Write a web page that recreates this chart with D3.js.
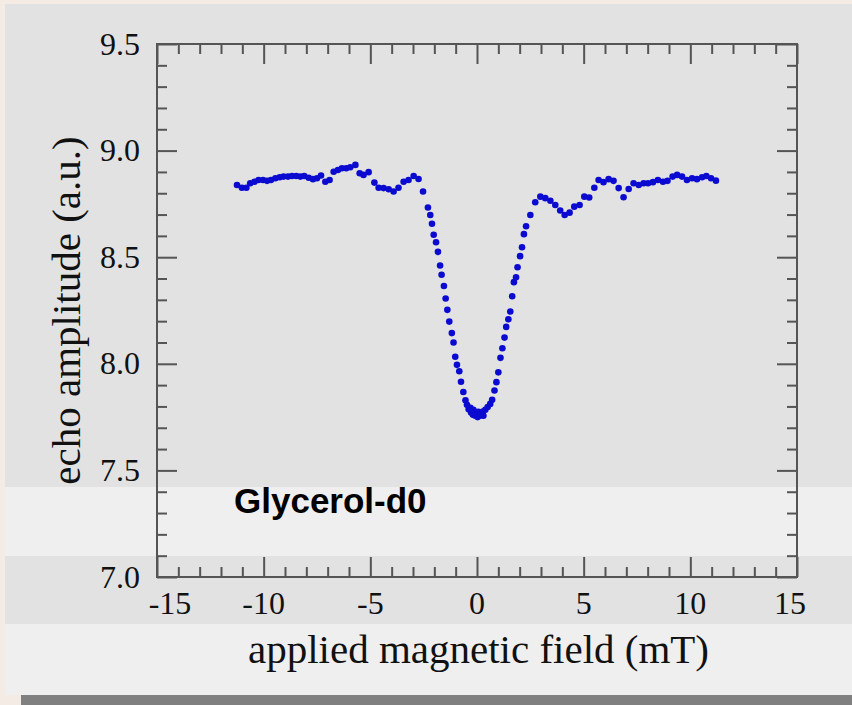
<!DOCTYPE html>
<html>
<head>
<meta charset="utf-8">
<script src="https://cdn.jsdelivr.net/npm/d3@7/dist/d3.min.js"></script>
<style>
  html, body { margin: 0; padding: 0; background: #f4ebe5; }
  svg { display: block; }
</style>
</head>
<body>
<svg id="chart" width="852" height="705"></svg>
<script>
// Applied magnetic field (mT)
const field = [
  -11.25, -11.02, -10.81, -10.63, -10.43, -10.24, -10.03, -9.84, -9.66, -9.45,
  -9.25, -9.07, -8.86, -8.67, -8.47, -8.28, -8.10, -7.89, -7.69, -7.50,
  -7.31, -7.11, -6.91, -6.72, -6.52, -6.33, -6.13, -5.94, -5.70, -5.50,
  -5.32, -5.08, -4.81, -4.61, -4.38, -4.14, -3.91, -3.68, -3.44, -3.21,
  -2.97, -2.74, -2.53, -2.30, -2.19, -2.11, -2.03, -1.92, -1.83, -1.73,
  -1.66, -1.55, -1.47, -1.39, -1.30, -1.18, -1.10, -1.02, -0.94, -0.83,
  -0.75, -0.64, -0.54, -0.47, -0.39, -0.31, -0.28, -0.19, -0.17, -0.08,
  0.03, 0.06, 0.12, 0.19, 0.28, 0.30, 0.39, 0.50, 0.62, 0.71,
  0.82, 0.91, 1.00, 1.10, 1.19, 1.29, 1.37, 1.47, 1.56, 1.65,
  1.73, 1.83, 1.90, 2.02, 2.11, 2.20, 2.30, 2.50, 2.73, 2.97,
  3.20, 3.44, 3.67, 3.90, 4.11, 4.34, 4.56, 4.81, 5.03, 5.26,
  5.50, 5.70, 5.93, 6.17, 6.40, 6.64, 6.87, 7.11, 7.34, 7.58,
  7.81, 8.02, 8.25, 8.48, 8.72, 8.93, 9.17, 9.38, 9.61, 9.84,
  10.08, 10.31, 10.55, 10.75, 10.97, 11.20
];

// Echo amplitude (a.u.)
const amplitude = [
  8.839, 8.826, 8.826, 8.847, 8.854, 8.862, 8.862, 8.858, 8.862, 8.870,
  8.875, 8.878, 8.878, 8.881, 8.881, 8.878, 8.881, 8.873, 8.866, 8.870,
  8.883, 8.854, 8.862, 8.901, 8.909, 8.917, 8.917, 8.922, 8.933, 8.894,
  8.886, 8.899, 8.850, 8.826, 8.824, 8.819, 8.808, 8.826, 8.854, 8.862,
  8.881, 8.867, 8.808, 8.733, 8.698, 8.657, 8.605, 8.570, 8.525, 8.461,
  8.418, 8.365, 8.306, 8.253, 8.198, 8.144, 8.100, 8.033, 7.995, 7.965,
  7.916, 7.868, 7.829, 7.808, 7.787, 7.794, 7.771, 7.761, 7.784, 7.756,
  7.750, 7.775, 7.756, 7.769, 7.776, 7.756, 7.784, 7.797, 7.812, 7.831,
  7.875, 7.914, 7.960, 8.028, 8.073, 8.123, 8.173, 8.209, 8.245, 8.317,
  8.383, 8.406, 8.453, 8.505, 8.547, 8.608, 8.645, 8.698, 8.758, 8.784,
  8.777, 8.765, 8.745, 8.719, 8.698, 8.709, 8.737, 8.745, 8.784, 8.780,
  8.826, 8.862, 8.852, 8.866, 8.858, 8.824, 8.781, 8.820, 8.847, 8.839,
  8.847, 8.847, 8.852, 8.862, 8.854, 8.858, 8.878, 8.886, 8.878, 8.862,
  8.870, 8.866, 8.875, 8.881, 8.870, 8.859
];

// Axis ticks
const xMajorTicks = [-15, -10, -5, 0, 5, 10, 15];
const xTickLabels = ["-15", "-10", "-5", "0", "5", "10", "15"];
const xMinorTicks = [-14, -13, -12, -11, -9, -8, -7, -6, -4, -3, -2, -1,
                     1, 2, 3, 4, 6, 7, 8, 9, 11, 12, 13, 14];
const yMajorTicks = [7.0, 7.5, 8.0, 8.5, 9.0, 9.5];
const yTickLabels = ["7.0", "7.5", "8.0", "8.5", "9.0", "9.5"];
const yMinorTicks = [7.1, 7.2, 7.3, 7.4, 7.6, 7.7, 7.8, 7.9, 8.1, 8.2, 8.3, 8.4,
                     8.6, 8.7, 8.8, 8.9, 9.1, 9.2, 9.3, 9.4];

const sampleLabel = "Glycerol-d0";
const xTitle = "applied magnetic field (mT)";
const yTitle = "echo amplitude (a.u.)";

(function draw() {
  const svg = d3.select("#chart");
  const W = 852, H = 705;

  // Backdrop panels
  const bg = svg.append("g");
  bg.append("rect").attr("x", 0).attr("y", 0).attr("width", W).attr("height", H).attr("fill", "#f4ebe5");
  bg.append("rect").attr("x", 5).attr("y", 4).attr("width", W - 5).attr("height", 620).attr("fill", "#e2e2e2");
  bg.append("rect").attr("x", 5).attr("y", 487).attr("width", W - 5).attr("height", 69).attr("fill", "#efefef");
  bg.append("rect").attr("x", 5).attr("y", 624).attr("width", W - 5).attr("height", 71).attr("fill", "#efefef");
  bg.append("rect").attr("x", 21).attr("y", 695).attr("width", W - 21).attr("height", 10).attr("fill", "#808080");

  // Plot frame
  const pLeft = 157, pRight = 797, pTop = 44, pBottom = 577;
  const x = d3.scaleLinear().domain([-15, 15]).range([pLeft, pRight]);
  const y = d3.scaleLinear().domain([7.0, 9.5]).range([pBottom, pTop]);

  const axisColor = "#555";

  function styleAxis(g) {
    g.select(".domain").remove();
    g.selectAll(".tick line").attr("stroke", axisColor).attr("stroke-width", 2);
    g.selectAll(".tick text").remove();
  }

  // Inward ticks on all four sides
  const axes = svg.append("g");
  axes.append("g").attr("transform", `translate(0,${pBottom})`)
    .call(d3.axisBottom(x).tickValues(xMajorTicks).tickSize(-20).tickSizeOuter(0)).call(styleAxis);
  axes.append("g").attr("transform", `translate(0,${pBottom})`)
    .call(d3.axisBottom(x).tickValues(xMinorTicks).tickSize(-10).tickSizeOuter(0)).call(styleAxis);
  axes.append("g").attr("transform", `translate(0,${pTop})`)
    .call(d3.axisTop(x).tickValues(xMajorTicks).tickSize(-20).tickSizeOuter(0)).call(styleAxis);
  axes.append("g").attr("transform", `translate(0,${pTop})`)
    .call(d3.axisTop(x).tickValues(xMinorTicks).tickSize(-10).tickSizeOuter(0)).call(styleAxis);
  axes.append("g").attr("transform", `translate(${pLeft},0)`)
    .call(d3.axisLeft(y).tickValues(yMajorTicks).tickSize(-20).tickSizeOuter(0)).call(styleAxis);
  axes.append("g").attr("transform", `translate(${pLeft},0)`)
    .call(d3.axisLeft(y).tickValues(yMinorTicks).tickSize(-10).tickSizeOuter(0)).call(styleAxis);
  axes.append("g").attr("transform", `translate(${pRight},0)`)
    .call(d3.axisRight(y).tickValues(yMajorTicks).tickSize(-20).tickSizeOuter(0)).call(styleAxis);
  axes.append("g").attr("transform", `translate(${pRight},0)`)
    .call(d3.axisRight(y).tickValues(yMinorTicks).tickSize(-10).tickSizeOuter(0)).call(styleAxis);

  axes.append("rect")
    .attr("x", pLeft).attr("y", pTop)
    .attr("width", pRight - pLeft).attr("height", pBottom - pTop)
    .attr("fill", "none").attr("stroke", axisColor).attr("stroke-width", 2);

  // Tick labels
  const serif = "'Liberation Serif', 'Times New Roman', serif";
  const labels = svg.append("g").attr("font-family", serif).attr("fill", "#111");

  // end labels are nudged inward so they clear the frame corners
  const xLabelNudge = xMajorTicks.map((d, i) => i === 0 ? 13 : (i === xMajorTicks.length - 1 ? -7 : 0));
  labels.selectAll(".xl").data(xMajorTicks).enter().append("text")
    .attr("x", (d, i) => x(d) + xLabelNudge[i])
    .attr("y", 614)
    .attr("text-anchor", "middle")
    .attr("font-size", 32)
    .text((d, i) => xTickLabels[i]);

  labels.selectAll(".yl").data(yMajorTicks).enter().append("text")
    .attr("x", 140)
    .attr("y", d => y(d))
    .attr("dy", "0.33em")
    .attr("text-anchor", "end")
    .attr("font-size", 32)
    .text((d, i) => yTickLabels[i]);

  // Axis titles
  labels.append("text")
    .attr("x", 478.5).attr("y", 663)
    .attr("text-anchor", "middle")
    .attr("font-size", 41)
    .text(xTitle);

  labels.append("text")
    .attr("transform", `translate(80,${(pTop + pBottom) / 2}) rotate(-90)`)
    .attr("text-anchor", "middle")
    .attr("font-size", 41)
    .text(yTitle);

  // Sample name
  svg.append("text")
    .attr("x", 234).attr("y", 513)
    .attr("font-family", "'Liberation Sans', Arial, sans-serif")
    .attr("font-weight", "bold")
    .attr("font-size", 35)
    .attr("fill", "#000")
    .text(sampleLabel);

  // Data points
  svg.append("g").selectAll("circle")
    .data(field.map((f, i) => [f, amplitude[i]]))
    .enter().append("circle")
    .attr("cx", d => x(d[0]))
    .attr("cy", d => y(d[1]))
    .attr("r", 3.3)
    .attr("fill", "#0a0ad0");
})();
</script>
</body>
</html>
